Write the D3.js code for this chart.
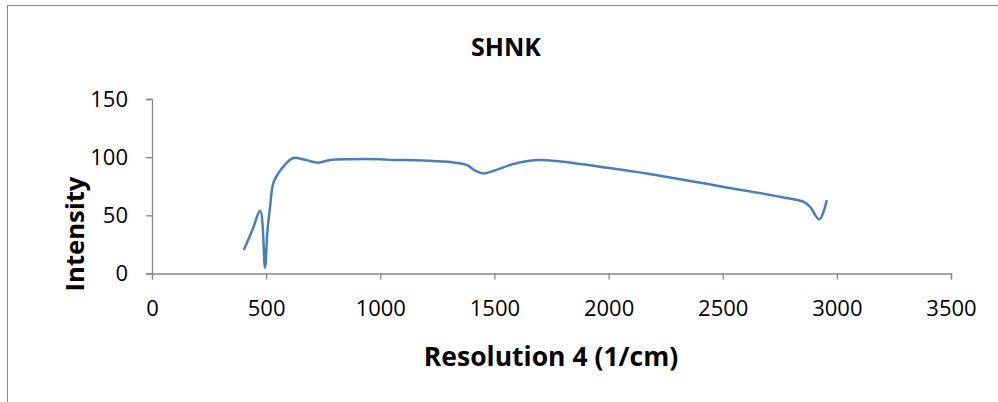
<!DOCTYPE html>
<html>
<head>
<meta charset="utf-8">
<script src="https://cdn.jsdelivr.net/npm/d3@7"></script>
<style>
  html, body { margin: 0; padding: 0; background: #fff; }
  svg { display: block; }
  text { font-family: "Open Sans", "Noto Sans", sans-serif; fill: #000; }
</style>
</head>
<body>
<svg id="chart" width="998" height="402"></svg>
<script>
// Spectrum of sample SHNK: wavenumber (1/cm) against intensity
const wavenumber = [404, 440, 474, 495, 505, 517, 531, 553, 580, 619, 660, 728, 780, 867, 1000, 1056, 1150, 1231, 1320, 1378, 1420, 1451, 1500, 1581, 1640, 1699, 1800, 1875, 1962, 2167, 2500, 2750, 2853, 2882, 2923, 2955];
const intensity  = [21, 37.5, 53.7, 5, 35, 57, 77.5, 86, 93, 99.3, 98.3, 95.3, 97.6, 98.3, 98.2, 97.6, 97.4, 96.7, 95.5, 93.3, 88, 86, 88.5, 94, 96.5, 97.6, 96.0, 94.2, 91.8, 86, 74.6, 66, 61.7, 57.4, 46.6, 62.3];
const xTicks = [0, 500, 1000, 1500, 2000, 2500, 3000, 3500];
const yTicks = [0, 50, 100, 150];

const chartTitle = "SHNK";
const xTitle = "Resolution 4 (1/cm)";
const yTitle = "Intensity";

const svg = d3.select("#chart");
const W = 998, H = 402;
const plot = { left: 152, right: 951, top: 99, bottom: 273.5 };

// Outer chart frame
svg.append("rect")
  .attr("x", 7.5).attr("y", 5.5)
  .attr("width", W + 10).attr("height", H + 10)
  .attr("fill", "none").attr("stroke", "#888888").attr("stroke-width", 1);

const x = d3.scaleLinear().domain([0, 3500]).range([plot.left, plot.right]);
const y = d3.scaleLinear().domain([0, 150]).range([plot.bottom, plot.top]);

const axisColor = "#868686";

// X axis along the zero line
const gx = svg.append("g")
  .attr("transform", `translate(0,${y(0)})`)
  .call(d3.axisBottom(x).tickValues(xTicks).tickSize(6).tickPadding(21).tickFormat(d3.format("d")));
gx.select(".domain").attr("stroke", axisColor).attr("stroke-width", 1.3);
gx.selectAll(".tick line").attr("stroke", axisColor).attr("stroke-width", 1.3);
gx.selectAll(".tick text").attr("font-size", 22).attr("font-family", "Open Sans").attr("fill", "#000");

// Y axis
const gy = svg.append("g")
  .attr("transform", `translate(${x(0)},0)`)
  .call(d3.axisLeft(y).tickValues(yTicks).tickSize(6).tickPadding(18).tickFormat(d3.format("d")));
gy.select(".domain").attr("stroke", axisColor).attr("stroke-width", 1.3);
gy.selectAll(".tick line").attr("stroke", axisColor).attr("stroke-width", 1.3);
gy.selectAll(".tick text").attr("font-size", 22).attr("font-family", "Open Sans").attr("fill", "#000");

// Spectrum line
const pts = wavenumber.map((w, i) => [w, intensity[i]]);
const line = d3.line()
  .x(d => x(d[0]))
  .y(d => y(d[1]))
  .curve(d3.curveCatmullRom.alpha(0.5));
svg.append("path")
  .datum(pts)
  .attr("d", line)
  .attr("fill", "none")
  .attr("stroke", "#4a7ebb")
  .attr("stroke-width", 2.5)
  .attr("stroke-linejoin", "round")
  .attr("stroke-linecap", "round");

// Titles
svg.append("text")
  .attr("x", 506).attr("y", 56)
  .attr("text-anchor", "middle")
  .attr("font-size", 25).attr("font-weight", "bold")
  .text(chartTitle);

svg.append("text")
  .attr("x", 551).attr("y", 366)
  .attr("text-anchor", "middle")
  .attr("font-size", 26.5).attr("font-weight", "bold")
  .text(xTitle);

svg.append("text")
  .attr("transform", "translate(84,234) rotate(-90)")
  .attr("text-anchor", "middle")
  .attr("font-size", 25.7).attr("font-weight", "bold")
  .text(yTitle);
</script>
</body>
</html>
